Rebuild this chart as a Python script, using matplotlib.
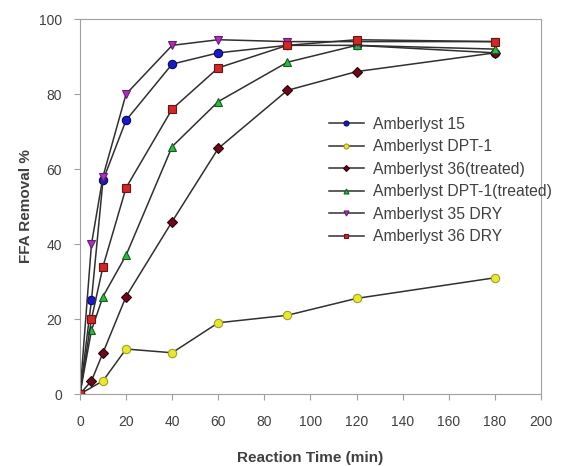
import numpy as np
import matplotlib
matplotlib.use('Agg')
import matplotlib.pyplot as plt

plt.rcParams['font.family'] = ['Liberation Sans', 'DejaVu Sans']

# reaction times (min)
t_all = [0, 5, 10, 20, 40, 60, 90, 120, 180]
t_dpt1 = [0, 10, 20, 40, 60, 90, 120, 180]

a15 = [0, 25, 57, 73, 88, 91, 93, 93, 91]
dpt1 = [0, 3.5, 12, 11, 19, 21, 25.5, 31]
a36_treated = [0, 3.5, 11, 26, 46, 65.5, 81, 86, 91]
dpt1_treated = [0, 17, 26, 37, 66, 78, 88.5, 93, 92]
a35_dry = [0, 40, 58, 80, 93, 94.5, 94, 94, 94]
a36_dry = [0, 20, 34, 55, 76, 87, 93, 94.5, 94]

series = [
    ('Amberlyst 15', t_all, a15, '#1818c8', '#0a0a60', 'o'),
    ('Amberlyst DPT-1', t_dpt1, dpt1, '#e8e830', '#a0a020', 'o'),
    ('Amberlyst 36(treated)', t_all, a36_treated, '#6a0a1a', '#300008', 'D'),
    ('Amberlyst DPT-1(treated)', t_all, dpt1_treated, '#30b840', '#106020', '^'),
    ('Amberlyst 35 DRY', t_all, a35_dry, '#b828c8', '#602068', 'v'),
    ('Amberlyst 36 DRY', t_all, a36_dry, '#d02828', '#701010', 's'),
]

fig = plt.figure(figsize=(5.67, 4.66), dpi=100)
ax = fig.add_axes([0.141, 0.1545, 0.813, 0.8045])

for name, t, y, c, ec, m in series:
    ms = 6 if m != 'D' else 5
    ax.plot(t, y, color='#303030', lw=1.1, marker=m, ms=ms, mew=0.8,
            markerfacecolor=c, markeredgecolor=ec, label=name)

ax.set_xlim(0, 200)
ax.set_ylim(0, 100)
ax.set_xticks(np.arange(0, 201, 20))
ax.set_yticks(np.arange(0, 101, 20))
for s in ax.spines.values():
    s.set_color('#a0a0a0')
ax.tick_params(colors='#a0a0a0', labelcolor='#404040', labelsize=10, length=4)
ax.tick_params(axis='x', pad=11)
ax.tick_params(axis='y', pad=9)

ax.set_xlabel('Reaction Time (min)', fontsize=11, fontweight='bold', color='#404040', labelpad=16)
ax.set_ylabel('FFA Removal %', fontsize=11, fontweight='bold', color='#404040', labelpad=4)

leg = ax.legend(loc='upper left', bbox_to_anchor=(0.51, 0.777), frameon=False,
                fontsize=11.3, markerscale=0.6, handlelength=2.2, labelspacing=0.48,
                handletextpad=0.6)
for txt in leg.get_texts():
    txt.set_color('#404040')

fig.savefig('out.png', dpi=100)
